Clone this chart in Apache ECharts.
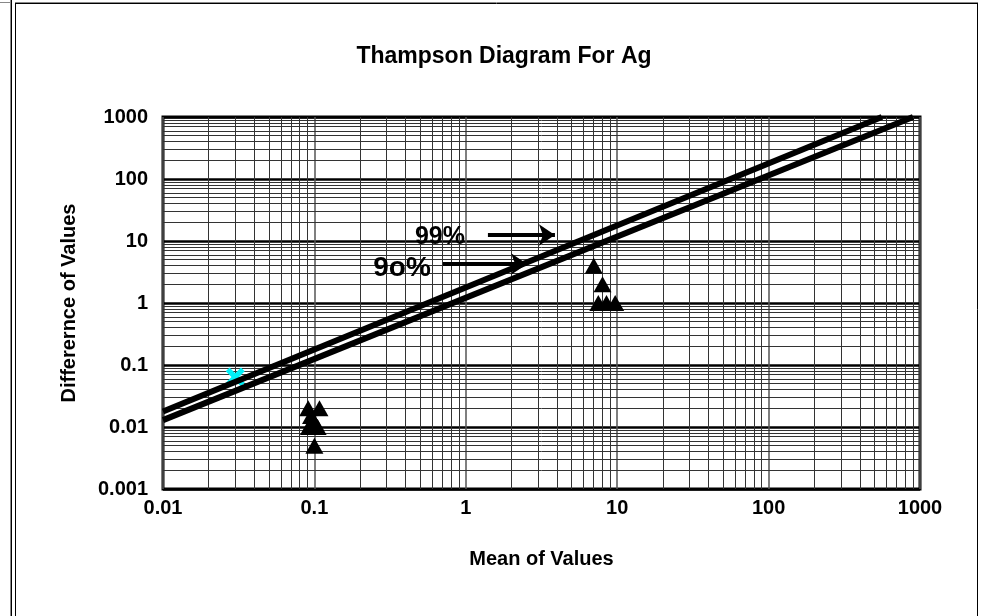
<!DOCTYPE html>
<html lang="en">
<head>
    <meta charset="UTF-8">
    <title>Thampson Diagram For Ag</title>
    <script src="https://cdn.jsdelivr.net/npm/echarts@6/dist/echarts.min.js"></script>
    <style>
        html, body { margin: 0; padding: 0; background: #fff; }
        #chart { width: 982px; height: 616px; }
    </style>
</head>
<body>
<div id="chart"></div>
<script type="text/javascript">
    // tick labels (decades)
    var xTickValues = [0.01, 0.1, 1, 10, 100, 1000];
    var xTickLabels = ['0.01', '0.1', '1', '10', '100', '1000'];
    var yTickValues = [0.001, 0.01, 0.1, 1, 10, 100, 1000];
    var yTickLabels = ['0.001', '0.01', '0.1', '1', '10', '100', '1000'];
    var minorSteps = [2, 3, 4, 5, 6, 7, 8, 9];

    // precision lines, [mean, difference]
    var line99 = [[0.01, 0.0178], [560, 1000]];
    var line90 = [[0.01, 0.0129], [900, 1000]];

    // sample pairs
    var meanValues = [0.091, 0.108, 0.095, 0.1, 0.092, 0.105, 0.1, 7, 8, 7.5, 8.5, 9.7];
    var diffValues = [0.02, 0.02, 0.015, 0.012, 0.01, 0.01, 0.005, 4, 2, 1, 1, 1];

    // odd point in cyan
    var cyanPoint = [[0.030, 0.064]];

    // annotations
    var noteText = ['99%', '9o%'];
    var noteX = [0.675, 0.379];
    var noteY = [11.6, 3.67];
    var arrowFrom = [[1.40, 12.5], [0.706, 4.26]];
    var arrowTo = [[3.88, 12.5], [2.54, 4.26]];
    var noteFontSize = [25, 28];

    function tickLabel(values, labels) {
        return function (v) {
            for (var i = 0; i < values.length; i++) {
                if (Math.abs(Math.log10(v) - Math.log10(values[i])) < 1e-6) return labels[i];
            }
            return '';
        };
    }

    var xMin = xTickValues[0], xMax = xTickValues[xTickValues.length - 1];
    var yMin = yTickValues[0], yMax = yTickValues[yTickValues.length - 1];

    // minor grid, 2..9 inside every decade
    var minorGrid = [];
    for (var i = 0; i < xTickValues.length - 1; i++) {
        minorSteps.forEach(function (m) {
            var v = xTickValues[i] * m;
            minorGrid.push({coords: [[v, yMin], [v, yMax]]});
        });
    }
    for (var j = 0; j < yTickValues.length - 1; j++) {
        minorSteps.forEach(function (m) {
            var v = yTickValues[j] * m;
            minorGrid.push({coords: [[xMin, v], [xMax, v]]});
        });
    }

    var font = 'Liberation Sans, Arial, sans-serif';
    var chart = echarts.init(document.getElementById('chart'));

    var option = {
        animation: false,
        backgroundColor: '#fff',
        title: {
            text: 'Thampson Diagram For Ag',
            left: 499,
            top: 40,
            textAlign: 'center',
            textStyle: {fontFamily: font, fontSize: 23, fontWeight: 'bold', color: '#000'}
        },
        graphic: [
            {type: 'line', shape: {x1: 10.5, y1: 0, x2: 10.5, y2: 616}, style: {stroke: '#888', lineWidth: 1}},
            {type: 'line', shape: {x1: 11.5, y1: 0, x2: 11.5, y2: 616}, style: {stroke: '#000', lineWidth: 1}},
            {type: 'line', shape: {x1: 15.5, y1: 4, x2: 15.5, y2: 616}, style: {stroke: '#000', lineWidth: 1}},
            {type: 'line', shape: {x1: 0, y1: 2.5, x2: 11, y2: 2.5}, style: {stroke: '#888', lineWidth: 1}},
            {type: 'line', shape: {x1: 15, y1: 2.5, x2: 978, y2: 2.5}, style: {stroke: '#888', lineWidth: 1}},
            {type: 'line', shape: {x1: 15, y1: 3.5, x2: 978, y2: 3.5}, style: {stroke: '#000', lineWidth: 1}},
            {type: 'line', shape: {x1: 977.5, y1: 3, x2: 977.5, y2: 616}, style: {stroke: '#000', lineWidth: 1}}
        ],
        grid: {
            left: 163, right: 62, top: 117, bottom: 127,
            show: true, borderColor: '#000', borderWidth: 3, backgroundColor: 'transparent'
        },
        xAxis: {
            type: 'log', logBase: 10, min: xMin, max: xMax, splitNumber: 5,
            name: 'Mean of Values', nameLocation: 'middle', nameGap: 60,
            nameTextStyle: {fontFamily: font, fontSize: 20, fontWeight: 'bold', color: '#000'},
            axisLine: {show: false},
            axisTick: {show: false},
            axisLabel: {fontFamily: font, fontSize: 20, fontWeight: 'bold', color: '#000', margin: 9,
                formatter: tickLabel(xTickValues, xTickLabels)},
            splitLine: {show: true, lineStyle: {color: '#555', width: 1.5}}
        },
        yAxis: {
            type: 'log', logBase: 10, min: yMin, max: yMax, splitNumber: 6,
            name: 'Differernce of Values', nameLocation: 'middle', nameGap: 84, nameRotate: 90,
            nameTextStyle: {fontFamily: font, fontSize: 20, fontWeight: 'bold', color: '#000'},
            axisLine: {show: false},
            axisTick: {show: false},
            axisLabel: {fontFamily: font, fontSize: 20, fontWeight: 'bold', color: '#000', margin: 15,
                formatter: tickLabel(yTickValues, yTickLabels)},
            splitLine: {show: true, lineStyle: {color: '#000', width: 2.5}}
        },
        series: [
            {
                name: 'grid', type: 'lines', coordinateSystem: 'cartesian2d', z: 1, silent: true,
                data: minorGrid,
                lineStyle: {color: '#333', width: 1, opacity: 1}
            },
            {
                name: 'cyan', type: 'scatter', z: 2, data: cyanPoint,
                symbol: 'path://M0,2L2,0L5,3L8,0L10,2L7,5L10,8L8,10L5,7L2,10L0,8L3,5Z', symbolSize: 19,
                itemStyle: {color: '#00f0f8', opacity: 1}
            },
            {
                name: '99%', type: 'line', z: 3, data: line99, symbol: 'none',
                lineStyle: {color: '#000', width: 6}
            },
            {
                name: '90%', type: 'line', z: 3, data: line90, symbol: 'none',
                lineStyle: {color: '#000', width: 6}
            },
            {
                name: 'pairs', type: 'scatter', z: 4,
                data: meanValues.map(function (m, k) { return [m, diffValues[k]]; }),
                symbol: 'triangle', symbolSize: [18, 16],
                itemStyle: {color: '#000', opacity: 1}
            },
            {
                name: 'notes', type: 'custom', z: 5, silent: true,
                data: noteText.map(function (t, k) { return [noteX[k], noteY[k], k]; }),
                renderItem: function (params, api) {
                    var k = api.value(2);
                    var p = api.coord([api.value(0), api.value(1)]);
                    return {
                        type: 'text', x: p[0], y: p[1],
                        style: {
                            text: noteText[k],
                            font: 'bold ' + noteFontSize[k] + 'px ' + font,
                            fill: '#000', align: 'center', verticalAlign: 'middle'
                        }
                    };
                },
                markLine: {
                    silent: true, symbol: ['none', 'arrow'], symbolSize: 16,
                    label: {show: false},
                    lineStyle: {color: '#000', width: 4, type: 'solid', opacity: 1},
                    emphasis: {disabled: true},
                    data: arrowFrom.map(function (a, k) {
                        return [{coord: a}, {coord: arrowTo[k]}];
                    })
                }
            }
        ]
    };

    chart.setOption(option);
</script>
</body>
</html>
